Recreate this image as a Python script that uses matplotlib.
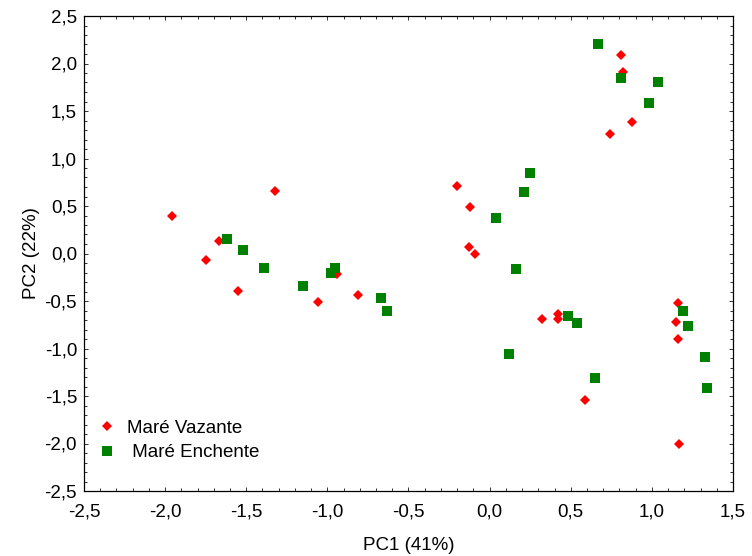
import numpy as np
import matplotlib
matplotlib.use("Agg")
import matplotlib.pyplot as plt
from matplotlib.ticker import MultipleLocator, FuncFormatter

plt.rcParams['font.family'] = ['Liberation Sans', 'DejaVu Sans']

# Maré Vazante (red diamonds)
vaz_pc1 = [-1.96, -1.32, -1.67, -1.75, -1.55, -0.94, -1.06, -0.81,
           -0.20, -0.12, -0.13, -0.09,
           0.32, 0.42, 0.42, 0.59,
           0.81, 0.82, 0.88, 0.74,
           1.16, 1.15, 1.16, 1.17]
vaz_pc2 = [0.39, 0.66, 0.13, -0.07, -0.39, -0.22, -0.51, -0.44,
           0.71, 0.49, 0.07, 0.00,
           -0.69, -0.64, -0.69, -1.54,
           2.09, 1.91, 1.38, 1.26,
           -0.52, -0.72, -0.90, -2.00]

# Maré Enchente (green squares)
enc_pc1 = [-1.62, -1.52, -1.39, -1.15, -0.95, -0.98, -0.67, -0.63,
           0.25, 0.21, 0.04, 0.16,
           0.48, 0.54, 0.12, 0.65,
           0.67, 0.81, 1.04, 0.98,
           1.19, 1.22, 1.33, 1.34]
enc_pc2 = [0.15, 0.04, -0.15, -0.34, -0.15, -0.21, -0.47, -0.60,
           0.85, 0.65, 0.37, -0.16,
           -0.66, -0.73, -1.06, -1.31,
           2.21, 1.85, 1.81, 1.58,
           -0.60, -0.76, -1.09, -1.42]

fig = plt.figure(figsize=(7.52, 5.56), dpi=100)
ax = fig.add_axes([84/752, 1-491/556, 649/752, 475/556])

ax.plot(vaz_pc1, vaz_pc2, 'D', color='#ff0000', ms=5.2, mew=0, label='Maré Vazante')
ax.plot(enc_pc1, enc_pc2, 's', color='#008000', ms=6.8, mew=0, label=' Maré Enchente')

ax.set_xlim(-2.5, 1.5)
ax.set_ylim(-2.5, 2.5)
ax.xaxis.set_major_locator(MultipleLocator(0.5))
ax.yaxis.set_major_locator(MultipleLocator(0.5))
ax.xaxis.set_minor_locator(MultipleLocator(0.1))
ax.yaxis.set_minor_locator(MultipleLocator(0.1))
fmt = FuncFormatter(lambda v, p: ('%.1f' % v).replace('.', ',').replace('-0,0', '0,0'))
ax.xaxis.set_major_formatter(fmt)
ax.yaxis.set_major_formatter(fmt)
ax.tick_params(which='both', direction='in', top=True, right=True,
               labelsize=13.5, width=0.7, color='#333333')
ax.tick_params(which='major', length=3)
ax.tick_params(which='minor', length=2)
ax.tick_params(axis='x', which='major', pad=9)
ax.tick_params(axis='y', which='major', pad=5)
for s in ax.spines.values():
    s.set_linewidth(0.9)

ax.set_xlabel('PC1 (41%)', fontsize=13.5, labelpad=12)
ax.set_ylabel('PC2 (22%)', fontsize=13.5, labelpad=3)

ax.legend(loc='lower left', bbox_to_anchor=(0.0, 0.035), frameon=False,
          fontsize=13.5, handlelength=1.0, handletextpad=0.6,
          labelspacing=0.4, borderaxespad=0.3)

fig.savefig('out.png', dpi=100)
